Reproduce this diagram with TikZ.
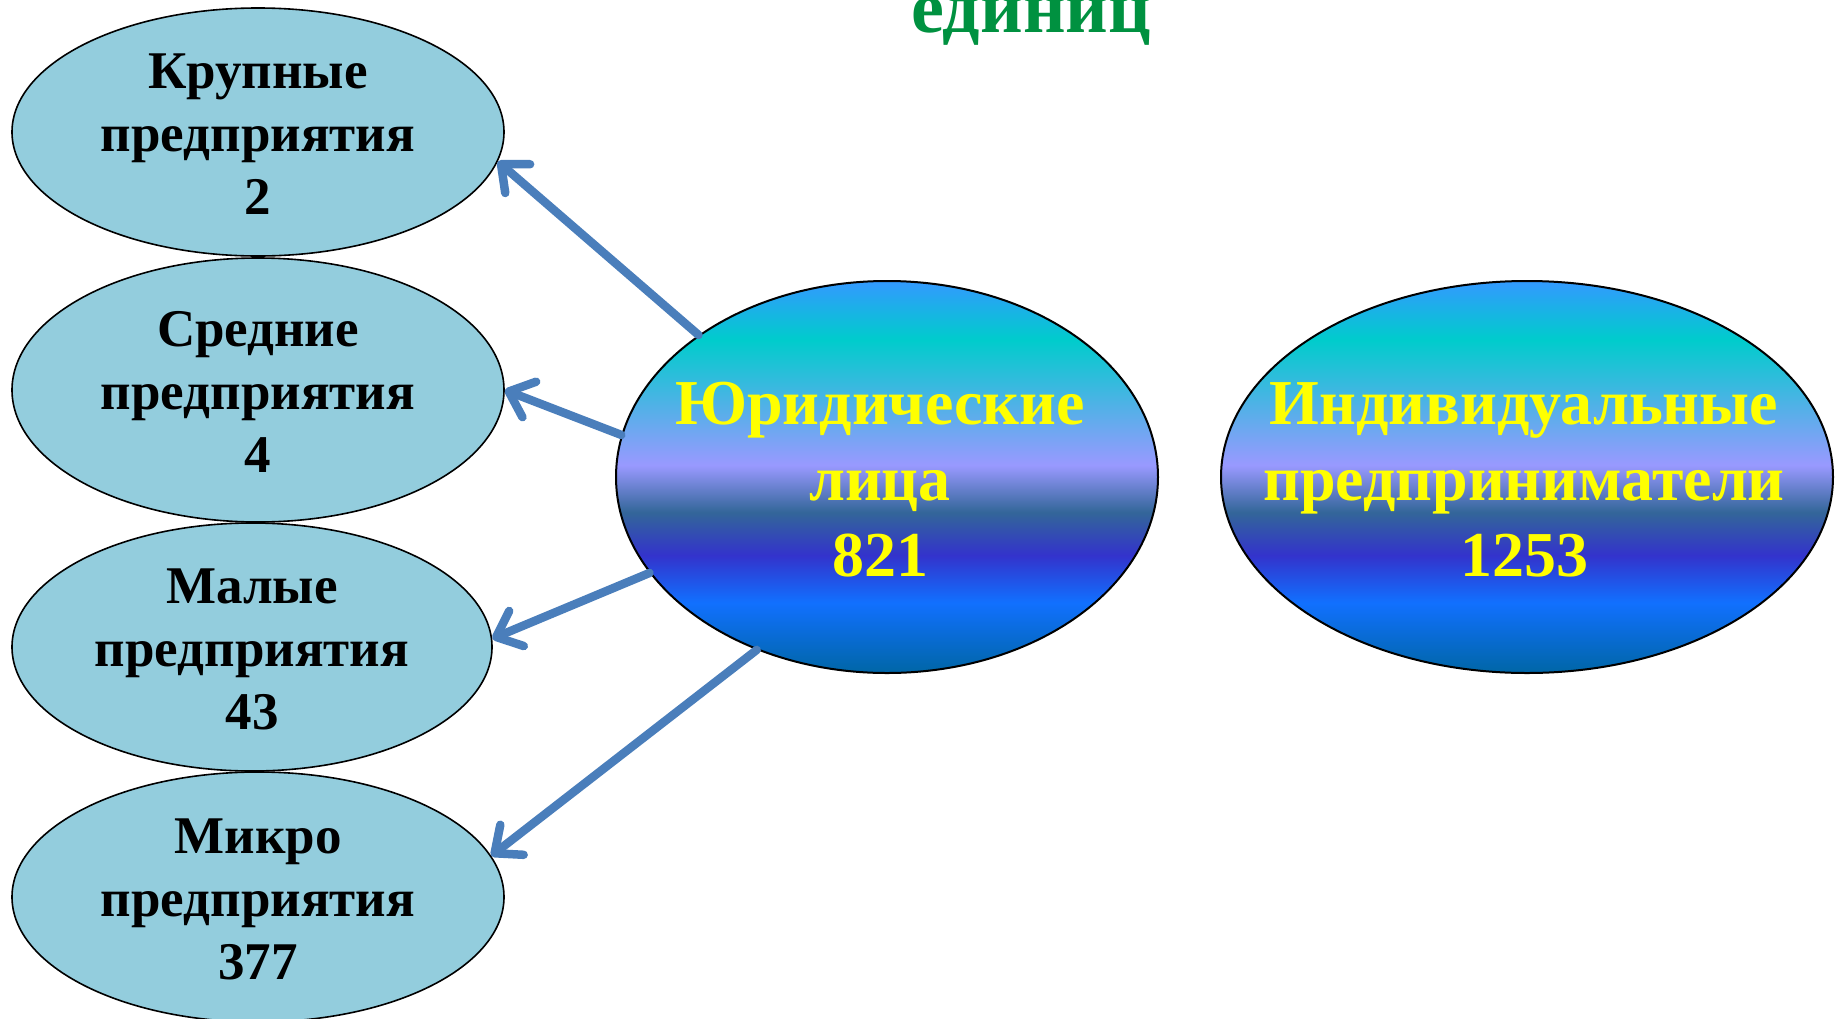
\documentclass[tikz,border=0pt]{standalone}
\usepackage{fontspec}
\setmainfont{Liberation Serif}
\usetikzlibrary{shapes.geometric,arrows.meta}
\definecolor{smallfill}{HTML}{93CDDD}
\definecolor{arrowblue}{HTML}{4A7EBB}
\definecolor{titlegreen}{HTML}{009140}
\definecolor{txtyellow}{HTML}{FFFF00}
\definecolor{oc1}{HTML}{3399FF}
\definecolor{oc2}{HTML}{00CCCC}
\definecolor{oc3}{HTML}{9999FF}
\definecolor{oc4}{HTML}{336699}
\definecolor{oc5}{HTML}{3333CC}
\definecolor{oc6}{HTML}{1170FF}
\definecolor{oc7}{HTML}{0066A6}
\pgfdeclareverticalshading{oceanshade}{100bp}{color(0bp)=(oc7); color(25bp)=(oc7); color(34bp)=(oc6); color(40bp)=(oc5); color(45.5bp)=(oc4); color(51.5bp)=(oc3); color(67.5bp)=(oc2); color(75bp)=(oc1); color(100bp)=(oc1)}
\tikzset{
  smallell/.style={ellipse, draw=black, line width=1.6pt, fill=smallfill, inner sep=0pt},
  bigell/.style={ellipse, draw=black, line width=2pt, shading=oceanshade, inner sep=0pt},
  smalltxt/.style={align=center, font=\bfseries\fontsize{53}{63}\selectfont, text=black, inner sep=0pt},
  bigtxt/.style={align=center, font=\bfseries\fontsize{64}{76}\selectfont, text=txtyellow, inner sep=0pt},
  link/.style={draw=arrowblue, line width=8.5pt, line cap=round, line join=round,
    -{Straight Barb[length=22pt, width=38pt, line cap=round, line join=round]}}
}
\begin{document}
\begin{tikzpicture}[x=1pt, y=-1pt]
\useasboundingbox (0,0) rectangle (1837,1018);
\node[anchor=base, font=\bfseries\fontsize{74}{86}\selectfont, text=titlegreen, inner sep=0pt] (title) at (1031,32) {единиц};

\node[smallell, minimum width=492pt, minimum height=248pt] (kr) at (258,132) {};
\node[smallell, minimum width=492pt, minimum height=264pt] (sr) at (258,390) {};
\node[smallell, minimum width=480pt, minimum height=248pt] (ma) at (252,647) {};
\node[smallell, minimum width=492pt, minimum height=250pt] (mi) at (258,897) {};

\node[smalltxt] (krt) at ([yshift=-2pt]kr.center) {Крупные\\предприятия\\2};
\node[smalltxt] (srt) at ([yshift=-2pt]sr.center) {Средние\\предприятия\\4};
\node[smalltxt] (mat) at ([yshift=-2pt]ma.center) {Малые\\предприятия\\43};
\node[smalltxt] (mit) at ([yshift=-2pt]mi.center) {Микро\\предприятия\\377};

\node[bigell, minimum width=542pt, minimum height=392pt] (jur) at (887,477) {};
\node[bigell, minimum width=612pt, minimum height=392pt] (ind) at (1527,477) {};
\node[bigtxt] (jurt) at ([xshift=-7pt,yshift=-3pt]jur.center) {Юридические\\лица\\821};
\node[bigtxt] (indt) at ([xshift=-3pt,yshift=-3pt]ind.center) {Индивидуальные\\предприниматели\\1253};

\draw[link] (jur.143.6) -- (kr.-7.6);
\draw[link] (jur.171.2) -- (sr.0);
\draw[link] (jur.202.7) -- (ma.2.3);
\draw[link] (jur.233.2) -- (mi.10);
\end{tikzpicture}
\end{document}
